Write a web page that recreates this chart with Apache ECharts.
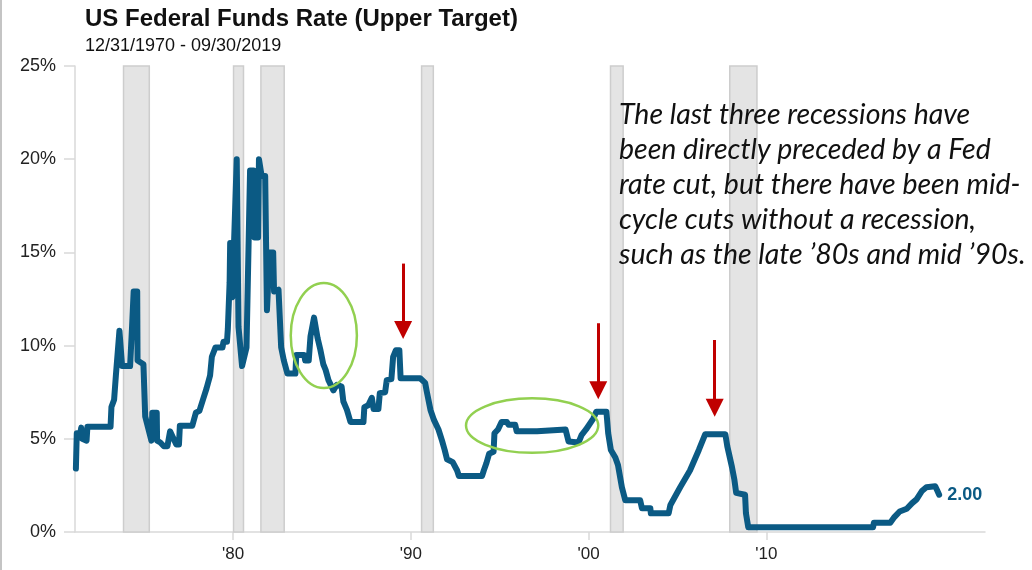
<!DOCTYPE html>
<html>
<head>
<meta charset="utf-8">
<script src="https://cdn.jsdelivr.net/npm/echarts@6/dist/echarts.min.js"></script>
<style>
  html, body { margin: 0; padding: 0; background: #fff; }
  #chart { width: 1032px; height: 570px; }
</style>
</head>
<body>
<div id="chart"></div>
<script>
// fed funds rate (decimal year, percent)
const years = [
  1971.15, 1971.2, 1971.4, 1971.45, 1971.5, 1971.75, 1971.8, 1973.1, 1973.15, 1973.3,
  1973.4, 1973.6, 1973.75, 1974.2, 1974.3, 1974.4, 1974.6, 1974.62, 1974.95, 1975.05,
  1975.4, 1975.45, 1975.7, 1975.72, 1975.9, 1976.1, 1976.3, 1976.45, 1976.6, 1976.8,
  1976.95, 1977.0, 1977.7, 1977.9, 1978.1, 1978.3, 1978.5, 1978.7, 1978.8, 1979.0,
  1979.4, 1979.45, 1979.65, 1979.7, 1979.8, 1979.83, 1979.95, 1980.2, 1980.3, 1980.5,
  1980.75, 1980.95, 1981.15, 1981.2, 1981.4, 1981.45, 1981.6, 1981.8, 1981.9, 1982.05,
  1982.25, 1982.3, 1982.55, 1982.7, 1982.85, 1983.05, 1983.5, 1983.55, 1984.0, 1984.05,
  1984.25, 1984.35, 1984.55, 1984.75, 1984.9, 1985.07, 1985.2, 1985.36, 1985.64, 1985.83,
  1986.1, 1986.2, 1986.4, 1986.6, 1987.33, 1987.38, 1987.6, 1987.8, 1987.9, 1988.17,
  1988.25, 1988.55, 1988.64, 1988.9, 1989.0, 1989.15, 1989.35, 1989.42, 1990.52, 1990.8,
  1990.9, 1991.1, 1991.3, 1991.55, 1991.75, 1991.9, 1992.03, 1992.35, 1992.6, 1992.7,
  1994.0, 1994.1, 1994.25, 1994.4, 1994.65, 1994.7, 1994.9, 1995.1, 1995.4, 1995.5,
  1995.87, 1995.95, 1997.1, 1997.2, 1998.7, 1998.87, 1999.43, 1999.6, 1999.85, 2000.27,
  2000.43, 2001.0, 2001.1, 2001.25, 2001.5, 2001.65, 2001.87, 2002.06, 2002.9, 2003.0,
  2003.47, 2003.5, 2004.5, 2004.6, 2005.15, 2005.7, 2006.2, 2006.56, 2007.69, 2007.8,
  2008.06, 2008.2, 2008.3, 2008.8, 2008.85, 2008.98, 2016.0, 2016.05, 2016.97, 2017.2,
  2017.5, 2017.9, 2018.2, 2018.45, 2018.75, 2019.0, 2019.5, 2019.6, 2019.72
];
const rates = [
  3.4, 5.3, 5.3, 5.6, 5.0, 4.9, 5.65, 5.65, 6.7, 7.1,
  8.4, 10.8, 8.9, 8.9, 10.8, 12.9, 12.9, 9.2, 9.0, 6.2,
  4.9, 6.4, 6.4, 4.9, 4.8, 4.6, 4.6, 5.4, 5.1, 4.7,
  4.7, 5.7, 5.7, 6.4, 6.5, 7.1, 7.7, 8.4, 9.4, 9.9,
  9.9, 10.2, 10.2, 10.9, 13.4, 15.5, 12.6, 20.0, 11.0, 8.9,
  9.9, 19.4, 19.4, 15.8, 15.8, 20.0, 19.1, 19.1, 11.9, 15.0,
  15.0, 12.9, 13.0, 9.9, 9.2, 8.5, 8.5, 9.5, 9.5, 9.2,
  9.2, 10.5, 11.5, 10.4, 9.8, 9.0, 8.7, 8.15, 7.6, 7.9,
  7.8, 7.0, 6.55, 5.9, 5.9, 6.7, 6.8, 7.2, 6.6, 6.6,
  7.45, 7.5, 8.15, 8.2, 9.4, 9.75, 9.75, 8.25, 8.25, 8.0,
  7.5, 6.55, 6.0, 5.5, 4.9, 4.4, 3.9, 3.75, 3.3, 3.0,
  3.0, 3.3, 3.7, 4.2, 4.3, 5.3, 5.5, 5.9, 5.9, 5.75,
  5.75, 5.4, 5.4, 5.5, 5.5, 4.85, 4.8, 5.2, 5.5, 6.1,
  6.45, 6.45, 5.3, 4.4, 4.0, 3.6, 2.4, 1.7, 1.7, 1.27,
  1.27, 1.0, 1.0, 1.45, 2.4, 3.3, 4.4, 5.25, 5.25, 4.6,
  3.5, 2.8, 2.1, 2.0, 1.0, 0.25, 0.25, 0.5, 0.5, 0.8,
  1.1, 1.25, 1.55, 1.75, 2.2, 2.4, 2.45, 2.25, 2.0
];

// shaded recessions
const recessionStart = [1973.83, 1980.02, 1981.56, 1990.6, 2001.23, 2007.94];
const recessionEnd = [1975.28, 1980.58, 1982.87, 1991.26, 2001.94, 2009.47];

// red arrows: x, top of shaft, centre of the head
const arrowX = [1989.56, 2000.54, 2007.09];
const arrowTop = [14.4, 11.2, 10.3];
const arrowHead = [10.84, 7.6, 6.67];

// green ellipses: centre and radii in data units
const ellipseX = [1985.1, 1996.82];
const ellipseY = [10.54, 5.71];
const ellipseRx = [1.86, 3.72];
const ellipseRy = [2.82, 1.46];

const tickYears = [1980, 1990, 2000, 2010];
const yTicks = [0, 5, 10, 15, 20, 25];

const note = "The last three recessions have\nbeen directly preceded by a Fed\nrate cut, but there have been mid-\ncycle cuts without a recession,\nsuch as the late \u201980s and mid \u201990s.";

const chart = echarts.init(document.getElementById("chart"));
const lineColor = "#0b5a84";
const font = "'Liberation Sans', Arial, sans-serif";

chart.setOption({
  animation: false,
  backgroundColor: "#fff",
  title: {
    text: "US Federal Funds Rate (Upper Target)",
    subtext: "12/31/1970 - 09/30/2019",
    left: 80,
    top: 2,
    itemGap: 6,
    textStyle: { fontFamily: font, fontSize: 24, fontWeight: "bold", color: "#111" },
    subtextStyle: { fontFamily: font, fontSize: 18, color: "#111" },
  },
  grid: { left: 75, right: 47, top: 66, bottom: 38 },
  xAxis: {
    type: "value",
    min: 1971.1,
    max: 2022.3,
    splitLine: { show: false },
    axisLine: { show: true, lineStyle: { color: "#d9d9d9", width: 1.5 } },
    axisTick: { show: true, customValues: tickYears, length: 8, lineStyle: { color: "#d9d9d9", width: 1.5 } },
    axisLabel: {
      customValues: tickYears,
      formatter: (v) => "'" + String(v).slice(2),
      margin: 14,
      fontFamily: font,
      fontSize: 17,
      color: "#222",
    },
  },
  yAxis: {
    type: "value",
    min: 0,
    max: 25,
    interval: 5,
    splitLine: { show: false },
    axisLine: { show: true, lineStyle: { color: "#d9d9d9", width: 1.5 } },
    axisTick: { show: true, length: 11, lineStyle: { color: "#d9d9d9", width: 1.5 } },
    axisLabel: {
      customValues: yTicks,
      formatter: "{value}%",
      margin: 19,
      fontFamily: font,
      fontSize: 18,
      color: "#222",
    },
  },
  graphic: [
    { type: "rect", left: 0, top: 0, shape: { width: 2, height: 570 }, style: { fill: "#c4c4c4" } },
    {
      type: "text",
      left: 619,
      top: 97,
      z: 100,
      style: {
        text: note,
        font: "italic 28.5px Lato, 'Open Sans', sans-serif",
        lineHeight: 35,
        fill: "#111",
      },
    },
  ],
  series: [
    {
      type: "line",
      z: 3,
      data: years.map((y, i) => [y, rates[i]]),
      showSymbol: false,
      lineStyle: { color: lineColor, width: 6, cap: "round", join: "round" },
      endLabel: {
        show: true,
        formatter: (p) => p.value[1].toFixed(2),
        distance: 8,
        fontFamily: font,
        fontSize: 18,
        fontWeight: "bold",
        color: lineColor,
      },
      markArea: {
        silent: true,
        itemStyle: { color: "#e4e4e4", borderColor: "#cdcdcd", borderWidth: 1.5 },
        data: recessionStart.map((s, i) => [{ xAxis: s, yAxis: 25 }, { xAxis: recessionEnd[i], yAxis: 0 }]),
      },
      markLine: {
        silent: true,
        symbol: ["none", "triangle"],
        symbolSize: [18, 18],
        label: { show: false },
        lineStyle: { color: "#c00000", width: 3, type: "solid" },
        data: arrowX.map((x, i) => [{ coord: [x, arrowTop[i]] }, { coord: [x, arrowHead[i]] }]),
      },
    },
    {
      type: "custom",
      z: 4,
      silent: true,
      clip: false,
      data: ellipseX.map((x, i) => [x, ellipseY[i], ellipseRx[i], ellipseRy[i]]),
      renderItem: (params, api) => {
        const c = api.coord([api.value(0), api.value(1)]);
        const r = api.size([api.value(2), api.value(3)]);
        return {
          type: "ellipse",
          shape: { cx: c[0], cy: c[1], rx: r[0], ry: r[1] },
          style: { fill: "none", stroke: "#92d050", lineWidth: 2.5 },
        };
      },
    },
  ],
});
</script>
</body>
</html>
